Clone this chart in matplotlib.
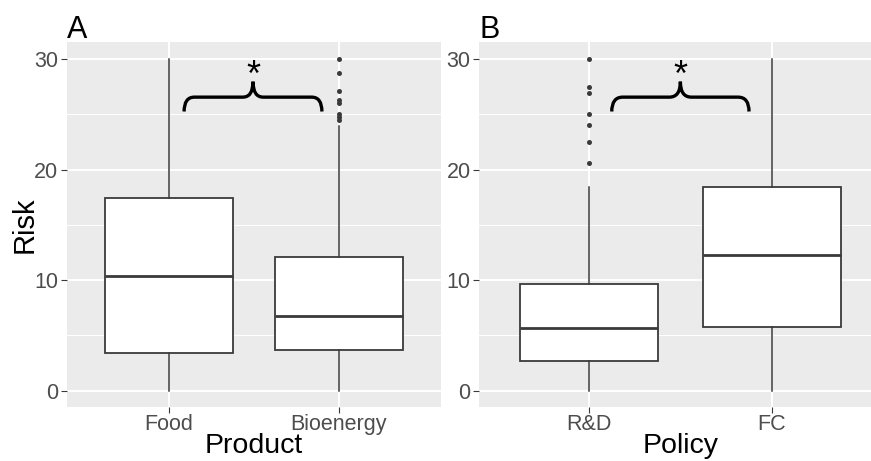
import matplotlib.pyplot as plt
from matplotlib.path import Path
from matplotlib.patches import PathPatch

plt.rcParams['font.family'] = ['Liberation Sans', 'DejaVu Sans']

# panel A: risk by product
product_labels = ['Food', 'Bioenergy']
product_q1 = [3.4, 3.7]
product_med = [10.35, 6.8]
product_q3 = [17.4, 12.05]
product_lo = [0.0, 0.0]
product_hi = [30.0, 23.9]
product_fliers = [[], [30.0, 28.7, 27.15, 26.3, 26.0, 25.05, 24.75, 24.5]]

# panel B: risk by policy
policy_labels = ['R&D', 'FC']
policy_q1 = [2.7, 5.8]
policy_med = [5.65, 12.3]
policy_q3 = [9.65, 18.45]
policy_lo = [0.0, 0.0]
policy_hi = [18.4, 30.0]
policy_fliers = [[30.0, 27.45, 26.9, 25.05, 24.0, 22.45, 20.6], []]

# significance braces (x start, x end) in category units
brace_A = (1.09, 1.9)
brace_B = (1.125, 1.875)

GREY_BG = '#EBEBEB'
DARK = '#3a3a3a'


def draw_brace(ax, x1, x2, yb=25.25, yh=26.55, yt=27.95, dx=0.06):
    xc = (x1 + x2) / 2
    verts = [(x1, yb), (x1, yh), (x1 + dx, yh),
             (xc - dx, yh),
             (xc, yh), (xc, yt),
             (xc, yh), (xc + dx, yh),
             (x2 - dx, yh),
             (x2, yh), (x2, yb)]
    codes = [Path.MOVETO, Path.CURVE3, Path.CURVE3,
             Path.LINETO,
             Path.CURVE3, Path.CURVE3,
             Path.CURVE3, Path.CURVE3,
             Path.LINETO,
             Path.CURVE3, Path.CURVE3]
    ax.add_patch(PathPatch(Path(verts, codes), fill=False, lw=2.4,
                           edgecolor='black', capstyle='butt', zorder=5))
    ax.text(xc, 27.55, '*', ha='center', va='baseline', fontsize=26, color='black')


def panel(ax, labels, q1, med, q3, lo, hi, fliers, xlabel, tag, brace, ylabel=None):
    stats = []
    for i in range(len(labels)):
        stats.append({'q1': q1[i], 'med': med[i], 'q3': q3[i],
                      'whislo': lo[i], 'whishi': hi[i], 'fliers': fliers[i]})
    ax.set_facecolor(GREY_BG)
    ax.bxp(stats, positions=[1, 2], widths=0.75, patch_artist=True,
           showcaps=False,
           boxprops=dict(facecolor='white', edgecolor=DARK, linewidth=1.3),
           medianprops=dict(color=DARK, linewidth=2.0),
           whiskerprops=dict(color=DARK, linewidth=1.1),
           flierprops=dict(marker='o', markersize=3.6, markerfacecolor=DARK,
                           markeredgecolor='none'))
    ax.set_xlim(0.4, 2.6)
    ax.set_ylim(-1.5, 31.5)
    ax.set_yticks([0, 10, 20, 30])
    ax.set_yticks([5, 15, 25], minor=True)
    ax.set_xticks([1, 2])
    ax.set_xticklabels(labels)
    ax.grid(True, which='major', color='white', lw=1.4)
    ax.grid(True, which='minor', axis='y', color='white', lw=0.7)
    ax.set_axisbelow(True)
    for s in ax.spines.values():
        s.set_visible(False)
    ax.tick_params(which='major', length=4, width=0.8, color=DARK,
                   labelcolor='#4D4D4D', labelsize=15.5, pad=2)
    ax.tick_params(axis='x', which='major', pad=1)
    ax.tick_params(which='minor', length=0)
    ax.set_xlabel(xlabel, fontsize=20.5, labelpad=-1.5)
    if ylabel:
        ax.set_ylabel(ylabel, fontsize=21)
        ax.yaxis.set_label_coords(-0.075, 0.5)
    ax.text(0.0, 1.011, tag, transform=ax.transAxes, fontsize=22,
            ha='left', va='baseline')
    draw_brace(ax, *brace)


fig = plt.figure(figsize=(8.71, 4.61), dpi=100)
axA = fig.add_axes([0.0766, 0.1165, 0.4297, 0.7915])
axB = fig.add_axes([0.55, 0.1165, 0.4623, 0.7915])

panel(axA, product_labels, product_q1, product_med, product_q3, product_lo,
      product_hi, product_fliers, 'Product', 'A', brace_A, ylabel='Risk')
panel(axB, policy_labels, policy_q1, policy_med, policy_q3, policy_lo,
      policy_hi, policy_fliers, 'Policy', 'B', brace_B)

fig.savefig('out.png', dpi=100)
